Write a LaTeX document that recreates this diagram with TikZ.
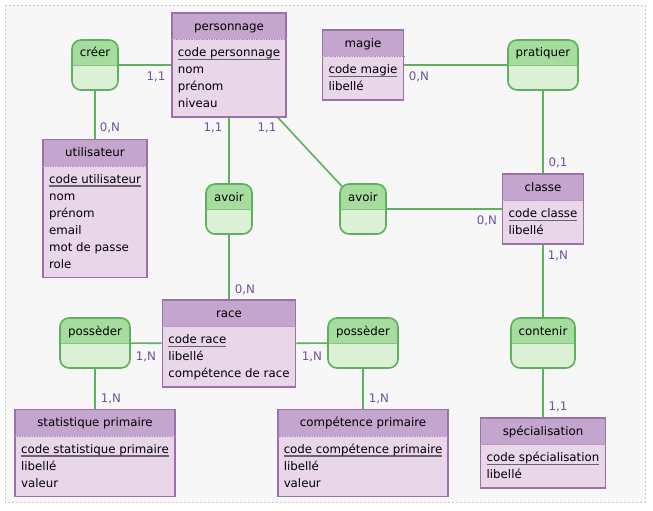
\documentclass[tikz,border=0pt]{standalone}
\usepackage{fontspec}
\setmainfont{DejaVu Sans}
\usetikzlibrary{positioning,shapes.multipart,backgrounds}

\definecolor{entHead}{HTML}{C3A5CD}
\definecolor{entBody}{HTML}{E9D6E9}
\definecolor{entLine}{HTML}{9B71AC}
\definecolor{keyLine}{HTML}{6E606E}
\definecolor{assocHead}{HTML}{A6DD9E}
\definecolor{assocBody}{HTML}{DBF0D5}
\definecolor{assocLine}{HTML}{5EB05E}
\definecolor{cardText}{HTML}{70529A}
\definecolor{frameGray}{HTML}{C8C8C8}
\definecolor{frameFill}{HTML}{F7F7F7}

\newcommand{\rowstrut}{\rule[-4.5pt]{0pt}{17pt}}
\newcommand{\keyattr}[1]{\rowstrut\setbox0\hbox{#1}%
  \rlap{\color{keyLine}\rule[-3.3pt]{\wd0}{1.5pt}}\box0}

\begin{document}
\begin{tikzpicture}[x=1pt, y=-1pt,
    font=\fontsize{11.8}{17}\selectfont,
    entity/.style={rectangle split, rectangle split parts=2,
      rectangle split part fill={entHead,entBody}, rectangle split draw splits=false,
      rectangle split part align={center,left}, align=left,
      draw=entLine, line width=1.6pt, inner xsep=6pt, inner ysep=4pt,
      execute at begin node=\rowstrut, execute at end node=\rowstrut},
    entsep/.style={draw=entLine!80, line width=0.8pt, dash pattern=on 1.5pt off 1pt},
    assoc/.style={draw=assocLine, line width=1.6pt, fill=assocBody, rounded corners=9pt,
      minimum width=#1, minimum height=50pt, inner sep=0pt,
      text height=9pt, text depth=25pt,
      path picture={
        \fill[assocHead, sharp corners] (path picture bounding box.north west)
          rectangle ([yshift=-25pt]path picture bounding box.north east);
        \draw[assocLine!75, line width=0.8pt, sharp corners]
          ([yshift=-25pt]path picture bounding box.north west)
          -- ([yshift=-25pt]path picture bounding box.north east);}},
    link/.style={draw=assocLine, line width=1.6pt},
    card/.style={text=cardText, inner sep=1pt},
    frame/.style={draw=frameGray, fill=frameFill, line width=0.8pt, dash pattern=on 2pt off 2pt}
  ]
  \useasboundingbox (0,0) rectangle (653,511);

  % entities
  \node[entity] (personnage) at (229,65)
    {personnage\nodepart{two}\keyattr{code personnage}\\nom\\prénom\\niveau};
  \node[entity] (utilisateur) at (95,208.5)
    {utilisateur\nodepart{two}\keyattr{code utilisateur}\\nom\\prénom\\email\\mot de passe\\role};
  \node[entity] (magie) at (363,65)
    {magie\nodepart{two}\keyattr{code magie}\\libellé};
  \node[entity] (classe) at (543,209)
    {classe\nodepart{two}\keyattr{code classe}\\libellé};
  \node[entity] (race) at (229,343.5)
    {race\nodepart{two}\keyattr{code race}\\libellé\\compétence de race};
  \node[entity] (statistique) at (95,453)
    {statistique primaire\nodepart{two}\keyattr{code statistique primaire}\\libellé\\valeur};
  \node[entity] (competence) at (363,453)
    {compétence primaire\nodepart{two}\keyattr{code compétence primaire}\\libellé\\valeur};
  \node[entity] (specialisation) at (543,453)
    {spécialisation\nodepart{two}\keyattr{code spécialisation}\\libellé};
  \foreach \ent in {personnage,utilisateur,magie,classe,race,statistique,competence,specialisation}
    \draw[entsep] (\ent.text split west) -- (\ent.text split east);

  % associations
  \node[assoc=46pt] (creer) at (95,65) {créer};
  \node[assoc=46pt] (avoirA) at (229,209) {avoir};
  \node[assoc=46pt] (avoirB) at (363,209) {avoir};
  \node[assoc=70pt] (pratiquer) at (543,65) {pratiquer};
  \node[assoc=70pt] (possederA) at (95,343) {possèder};
  \node[assoc=70pt] (possederB) at (363,343) {possèder};
  \node[assoc=64pt] (contenir) at (543,343) {contenir};

  % links and cardinalities
  \begin{scope}[on background layer]
    \path[frame] (5,5) rectangle (645,502);
    \draw[link] (creer) -- (personnage) node[card] (k-creer-p) at (156,77) {1,1};
    \draw[link] (creer) -- (utilisateur) node[card] (k-creer-u) at (110,128) {0,N};
    \draw[link] (personnage) -- (avoirA) node[card] (k-avoirA-p) at (213,128) {1,1};
    \draw[link] (personnage.center) -- (avoirB.center) node[card] (k-avoirB-p) at (267,128) {1,1};
    \draw[link] (avoirB) -- (classe) node[card] (k-avoirB-c) at (487,221) {0,N};
    \draw[link] (magie) -- (pratiquer) node[card] (k-prat-m) at (419,77) {0,N};
    \draw[link] (pratiquer) -- (classe) node[card] (k-prat-c) at (558,163) {0,1};
    \draw[link] (contenir) -- (classe) node[card] (k-cont-c) at (558,256) {1,N};
    \draw[link] (contenir) -- (specialisation) node[card] (k-cont-s) at (558,407) {1,1};
    \draw[link] (avoirA) -- (race) node[card] (k-avoirA-r) at (245,290) {0,N};
    \draw[link] (possederA) -- (race) node[card] (k-possA-r) at (146,357) {1,N};
    \draw[link] (possederA) -- (statistique) node[card] (k-possA-s) at (111,399) {1,N};
    \draw[link] (possederB) -- (race) node[card] (k-possB-r) at (312,357) {1,N};
    \draw[link] (possederB) -- (competence) node[card] (k-possB-c) at (379,399) {1,N};
  \end{scope}
\end{tikzpicture}
\end{document}
